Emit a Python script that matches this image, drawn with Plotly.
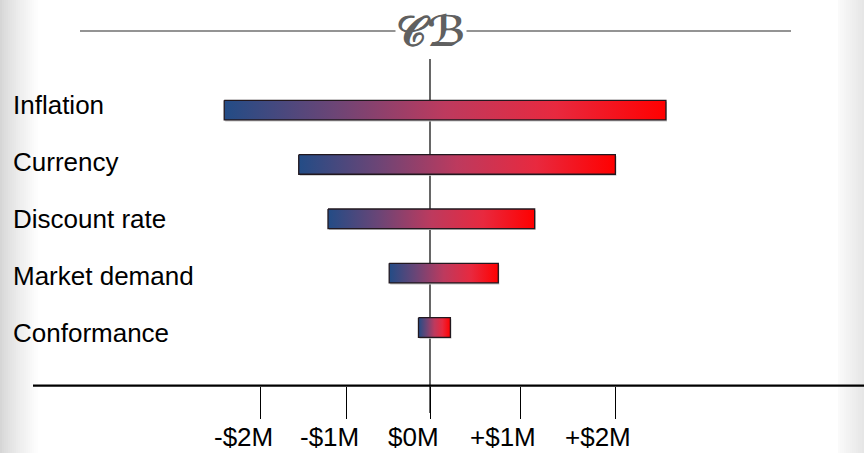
import plotly.graph_objects as go

# ---- data ----
categories = ["Inflation", "Currency", "Discount rate", "Market demand", "Conformance"]
low_values = [-2.32, -1.48, -1.15, -0.46, -0.13]     # $M, downside swing
high_values = [2.66, 2.09, 1.18, 0.77, 0.23]         # $M, upside swing
tick_positions = [-1.91, -0.94, 0.0, 1.02, 2.09]     # where the ticks sit on the drawn axis
tick_labels = ["-$2M", "-$1M", "$0M", "+$1M", "+$2M"]

# ---- layout constants (pixels) ----
W, H = 864, 453
ZERO_PX = 430.0
PX_PER_M = 88.7
AXIS_PX = 385.7
ROW0_PX = 110.1
ROW_STEP_PX = 54.35
BAR_H = 0.36
FONT = "Liberation Sans, Arial, sans-serif"

x_range = [(0 - ZERO_PX) / PX_PER_M, (W - ZERO_PX) / PX_PER_M]
span_rows = AXIS_PX / ROW_STEP_PX
r_top = -ROW0_PX / ROW_STEP_PX
y_range = [r_top + span_rows, r_top]


def px_x(px):
    return px / W


def px_y(px):
    return (H - px) / H


colorscale = [[0.0, "#234C86"], [0.25, "#6C4576"], [0.5, "#BD3A5E"],
              [0.75, "#E8293F"], [1.0, "#FF0000"]]

fig = go.Figure()

dx = 1.0 / PX_PER_M
dy = 1.5 / ROW_STEP_PX
for i, (lo, hi) in enumerate(zip(low_values, high_values)):
    # soft shadow
    fig.add_trace(go.Scatter(
        x=[lo + dx, hi + dx, hi + dx, lo + dx, lo + dx],
        y=[i - BAR_H / 2 + dy, i - BAR_H / 2 + dy, i + BAR_H / 2 + dy, i + BAR_H / 2 + dy, i - BAR_H / 2 + dy],
        fill="toself", fillcolor="#c4c4c4", mode="lines",
        line=dict(width=0, color="#c4c4c4"), hoverinfo="skip", showlegend=False))
    fig.add_trace(go.Scatter(
        x=[lo, hi, hi, lo, lo],
        y=[i - BAR_H / 2, i - BAR_H / 2, i + BAR_H / 2, i + BAR_H / 2, i - BAR_H / 2],
        fill="toself", mode="lines",
        fillgradient=dict(type="horizontal", colorscale=colorscale),
        line=dict(width=1.3, color="#22181f"),
        name=categories[i], showlegend=False,
        hovertemplate=categories[i] + ": %{x:.2f} $M<extra></extra>"))

shapes = []
# side vignettes
n = 20
for k in range(n):
    t = k / (n - 1)
    g = int(round(0xD6 + (0xFF - 0xD6) * t ** 0.8))
    shapes.append(dict(type="rect", xref="paper", yref="paper",
                       x0=px_x(k * 2.0), x1=px_x(k * 2.0 + 2.05), y0=0, y1=1,
                       fillcolor=f"rgb({g},{g},{g})", line=dict(width=0), layer="below"))
m = 13
for k in range(m):
    t = k / (m - 1)
    g = int(round(0xFA - (0xFA - 0xE6) * t))
    shapes.append(dict(type="rect", xref="paper", yref="paper",
                       x0=px_x(838 + k * 2.0), x1=px_x(838 + k * 2.0 + 2.05), y0=0, y1=1,
                       fillcolor=f"rgb({g},{g},{g})", line=dict(width=0), layer="below"))
# top decorative rule
shapes.append(dict(type="line", xref="paper", yref="paper",
                   x0=px_x(80), x1=px_x(791), y0=px_y(31), y1=px_y(31),
                   line=dict(color="#707070", width=1.5), layer="below"))
# zero line
shapes.append(dict(type="line", xref="x", yref="paper", x0=0, x1=0,
                   y0=px_y(59), y1=px_y(413), line=dict(color="black", width=1.2),
                   layer="below"))
# axis line
shapes.append(dict(type="line", xref="paper", yref="paper",
                   x0=px_x(33), x1=1, y0=px_y(AXIS_PX), y1=px_y(AXIS_PX),
                   line=dict(color="black", width=2.2), layer="above"))

annotations = []
label_y0, label_step = 105.0, 57.1
for i, cat in enumerate(categories):
    annotations.append(dict(text=cat, xref="paper", yref="paper", x=px_x(11),
                            y=px_y(label_y0 + label_step * i), xanchor="left",
                            yanchor="middle", showarrow=False,
                            font=dict(family=FONT, size=26, color="black")))
# tick labels (offset left of their ticks, as drawn in the source)
for tv, tl in zip(tick_positions, tick_labels):
    annotations.append(dict(text=tl, xref="x", yref="paper", x=tv, xshift=-17,
                            y=px_y(437), xanchor="center", yanchor="middle",
                            showarrow=False,
                            font=dict(family=FONT, size=26, color="black")))
annotations.append(dict(text="\U0001D49E\u212C", xref="paper", yref="paper", x=px_x(431), y=px_y(31),
                        xanchor="center", yanchor="middle", showarrow=False,
                        bgcolor="white", borderpad=0,
                        font=dict(family="DejaVu Serif, DejaVu Sans, serif", size=42,
                                  color="#606060", weight="bold")))

fig.update_layout(
    width=W, height=H,
    margin=dict(l=0, r=0, t=0, b=0),
    paper_bgcolor="white", plot_bgcolor="rgba(0,0,0,0)",
    shapes=shapes, annotations=annotations,
    xaxis=dict(range=x_range, domain=[0, 1], showgrid=False, zeroline=False,
               showline=False, tickmode="array", tickvals=tick_positions,
               ticktext=[""] * len(tick_positions), ticks="outside", ticklen=32,
               tickwidth=1.2, tickcolor="black", automargin=False, fixedrange=True),
    yaxis=dict(range=y_range, domain=[1 - AXIS_PX / H, 1], showgrid=False,
               zeroline=False, showline=False, showticklabels=False, ticks="",
               automargin=False, fixedrange=True),
    showlegend=False,
)

fig.write_html("out.html")
